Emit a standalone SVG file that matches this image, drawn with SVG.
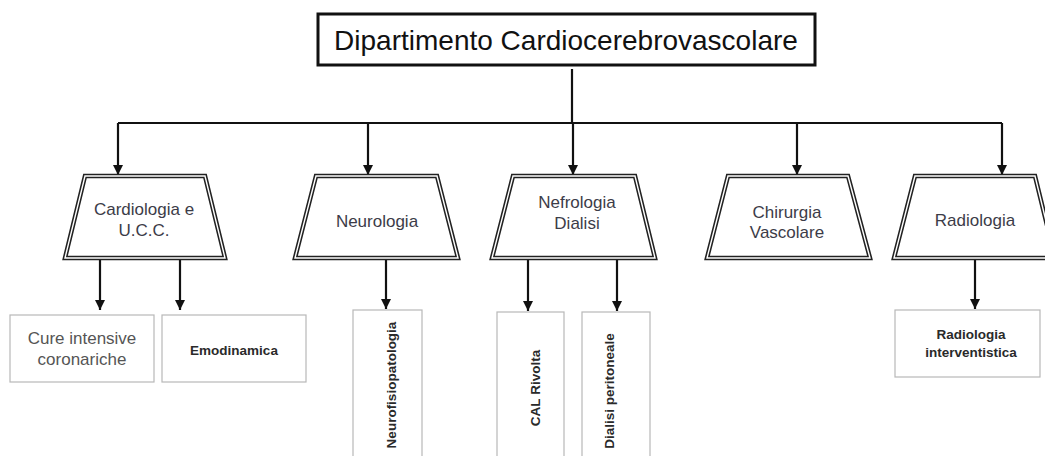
<svg xmlns="http://www.w3.org/2000/svg" width="1045" height="456" viewBox="0 0 1045 456">
<style>
.trap-o{fill:#fff;stroke:#222;stroke-width:4.5;stroke-linejoin:miter}
.trap-i{fill:none;stroke:#fff;stroke-width:1.4;stroke-linejoin:miter}
.box{fill:#fff;stroke:#b8b8b8;stroke-width:1.2}
.t{font-family:"Liberation Sans",Arial,sans-serif;text-anchor:middle}
.tt{font-size:17px;fill:#3c3c48}
.bt{font-size:17px;fill:#555}
.bb{font-size:13.5px;font-weight:bold;fill:#2a2a2a}
.c{fill:none;stroke:#111;stroke-width:2.2}
</style>
<defs>
<marker id="ah" markerUnits="userSpaceOnUse" markerWidth="10" markerHeight="10" refX="10" refY="5" orient="auto">
<path d="M0,0 L10,5 L0,10 z" fill="#111"/>
</marker>
</defs>
<rect width="1045" height="456" fill="#fff"/>

<g id="connectors">
<path class="c" d="M572,69 V123"/>
<path class="c" d="M118,123 H1002"/>
<path class="c" d="M118,123 V175" marker-end="url(#ah)"/>
<path class="c" d="M368,123 V175" marker-end="url(#ah)"/>
<path class="c" d="M573,123 V175" marker-end="url(#ah)"/>
<path class="c" d="M797,123 V175" marker-end="url(#ah)"/>
<path class="c" d="M1002,123 V175" marker-end="url(#ah)"/>
<path class="c" d="M100,258 V310" marker-end="url(#ah)"/>
<path class="c" d="M180,258 V310" marker-end="url(#ah)"/>
<path class="c" d="M386,258 V309" marker-end="url(#ah)"/>
<path class="c" d="M528,258 V311" marker-end="url(#ah)"/>
<path class="c" d="M617,258 V311" marker-end="url(#ah)"/>
<path class="c" d="M975,258 V309" marker-end="url(#ah)"/>
</g>

<g id="root">
<rect x="318" y="14" width="497" height="51" fill="#fff" stroke="#111" stroke-width="3"/>
<text class="t" x="566" y="50" font-size="28" fill="#111">Dipartimento Cardiocerebrovascolare</text>
</g>

<g id="cardiologia">
<path class="trap-o" d="M85,176 H205 L225,258 H65 Z"/>
<path class="trap-i" d="M85,176 H205 L225,258 H65 Z"/>
<text class="t tt" x="144" y="215">Cardiologia e</text>
<text class="t tt" x="144" y="236">U.C.C.</text>
</g>

<g id="neurologia">
<path class="trap-o" d="M316,176 H437 L458,258 H295 Z"/>
<path class="trap-i" d="M316,176 H437 L458,258 H295 Z"/>
<text class="t tt" x="377" y="227">Neurologia</text>
</g>

<g id="nefrologia">
<path class="trap-o" d="M513,176 H635 L655,258 H492 Z"/>
<path class="trap-i" d="M513,176 H635 L655,258 H492 Z"/>
<text class="t tt" x="577" y="208">Nefrologia</text>
<text class="t tt" x="577" y="229">Dialisi</text>
</g>

<g id="chirurgia">
<path class="trap-o" d="M728,176 H848 L870,258 H707 Z"/>
<path class="trap-i" d="M728,176 H848 L870,258 H707 Z"/>
<text class="t tt" x="787" y="218">Chirurgia</text>
<text class="t tt" x="787" y="238">Vascolare</text>
</g>

<g id="radiologia">
<path class="trap-o" d="M915,176 H1035 L1055,258 H894 Z"/>
<path class="trap-i" d="M915,176 H1035 L1055,258 H894 Z"/>
<text class="t tt" x="975" y="226">Radiologia</text>
</g>

<g id="cure-intensive">
<rect class="box" x="10" y="315" width="144" height="67"/>
<text class="t bt" x="82" y="344">Cure intensive</text>
<text class="t bt" x="82" y="365">coronariche</text>
</g>

<g id="emodinamica">
<rect class="box" x="162" y="315" width="144" height="67"/>
<text class="t bb" x="234" y="355" font-size="14.5">Emodinamica</text>
</g>

<g id="neurofisiopatologia">
<rect class="box" x="353" y="310" width="69" height="160"/>
<text class="t bb" transform="translate(396,385) rotate(-90)">Neurofisiopatologia</text>
</g>

<g id="cal-rivolta">
<rect class="box" x="497" y="312" width="67" height="160"/>
<text class="t bb" transform="translate(540,388) rotate(-90)" font-size="12.5">CAL Rivolta</text>
</g>

<g id="dialisi-peritoneale">
<rect class="box" x="582" y="312" width="68" height="160"/>
<text class="t bb" transform="translate(614,391) rotate(-90)" font-size="12">Dialisi peritoneale</text>
</g>

<g id="radiologia-interventistica">
<rect class="box" x="895" y="310" width="145" height="67"/>
<text class="t bb" x="971" y="339">Radiologia</text>
<text class="t bb" x="971" y="357">interventistica</text>
</g>
</svg>
